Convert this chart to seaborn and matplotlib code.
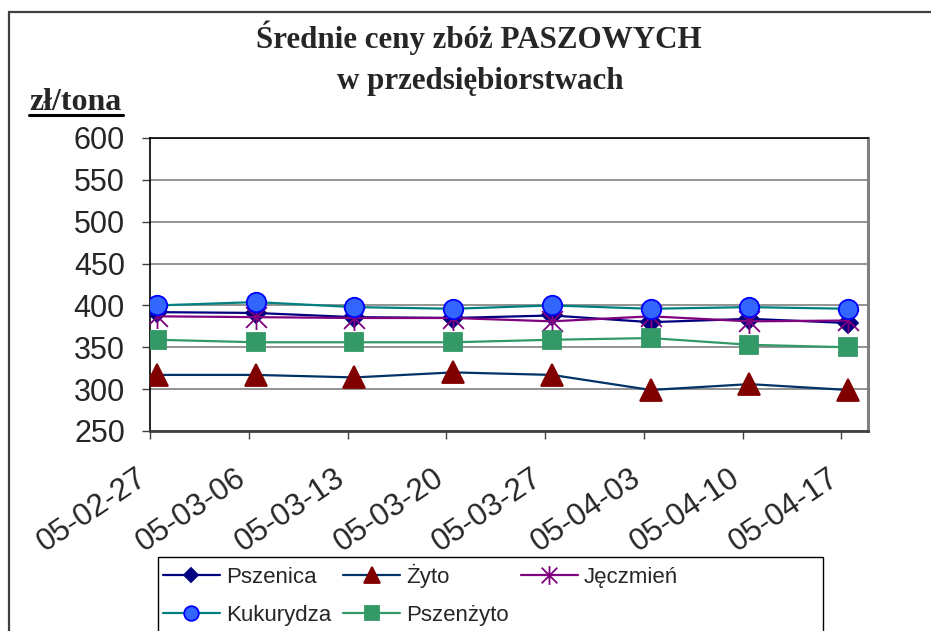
import numpy as np
import pandas as pd
import matplotlib
matplotlib.use("Agg")
import matplotlib.pyplot as plt
from matplotlib.path import Path
from matplotlib.patches import Rectangle
from matplotlib.lines import Line2D
from matplotlib.transforms import ScaledTranslation
import seaborn as sns

# data
dates = ["05-02-27", "05-03-06", "05-03-13", "05-03-20",
         "05-03-27", "05-04-03", "05-04-10", "05-04-17"]
pszenica = [392, 391, 386, 385, 388, 380, 384, 379]
zyto = [317, 317, 314, 320, 317, 299, 306, 299]
jeczmien = [387, 386, 385, 385, 381, 387, 381, 382]
kukurydza = [400, 404, 398, 396, 400, 396, 398, 396]
pszenzyto = [359, 356, 356, 356, 359, 361, 353, 350]
names = ["Pszenica", "Żyto", "Jęczmień", "Kukurydza", "Pszenżyto"]

# excel-like asterisk marker (X with a vertical bar)
star = Path([(-1, -1), (1, 1), (-1, 1), (1, -1), (0, -1.2), (0, 1.2)],
            [Path.MOVETO, Path.LINETO, Path.MOVETO, Path.LINETO, Path.MOVETO, Path.LINETO])

styles = {
    "Pszenica": dict(color="#000080", marker="D", mfc="#000080", mec="#000080", ms=10),
    "Żyto": dict(color="#003366", marker="^", mfc="#800000", mec="#800000", ms=16),
    "Jęczmień": dict(color="#800080", marker=star, mfc="none", mec="#800080", ms=18),
    "Kukurydza": dict(color="#008080", marker="o", mfc="#3366FF", mec="#0000FF", ms=14),
    "Pszenżyto": dict(color="#339966", marker="s", mfc="#339966", mec="#339966", ms=13.5),
}

df = pd.DataFrame({"pos": np.arange(len(dates)),
                   "Pszenica": pszenica, "Żyto": zyto, "Jęczmień": jeczmien,
                   "Kukurydza": kukurydza, "Pszenżyto": pszenzyto})

sns.set_style("white")
plt.rcParams["font.family"] = ["Liberation Sans", "DejaVu Sans"]

W, H = 931, 631
fig = plt.figure(figsize=(9.31, 6.31), dpi=100)
ax = fig.add_axes([150 / W, 1 - 431 / H, (868 - 150) / W, (431 - 138) / H])

for n in names:
    st = styles[n]
    sns.lineplot(data=df, x="pos", y=n, ax=ax, color=st["color"], lw=1.6,
                 marker=st["marker"], markerfacecolor=st["mfc"],
                 markeredgecolor=st["mec"], markersize=st["ms"],
                 markeredgewidth=1.3, label=n, legend=False, zorder=3)

ax.set_ylim(250, 600)
ax.set_yticks(np.arange(250, 601, 50))
ax.set_xlim(-0.07, 7.2)
ax.set_xticks(np.arange(len(dates)) - 0.07)
ax.set_xticklabels(dates, rotation=34, ha="right", va="top", rotation_mode="anchor")
ax.set_xlabel("")
ax.set_ylabel("")
ax.grid(axis="y", color="#808080", lw=1.2)
ax.grid(axis="x", visible=False)
ax.set_axisbelow(True)
ax.tick_params(axis="y", direction="out", length=6, width=1, color="#404040",
               labelsize=22, pad=12, left=True)
ax.tick_params(axis="x", direction="out", length=6, width=1, color="#404040",
               labelsize=22.5, pad=17, bottom=True)
shift = ScaledTranslation(-14 / 100, 0, fig.dpi_scale_trans)
for lab in ax.get_xticklabels():
    lab.set_transform(lab.get_transform() + shift)

for s in ["left", "top"]:
    ax.spines[s].set_color("black")
    ax.spines[s].set_linewidth(1.2)
ax.spines["bottom"].set_color("#404040")
ax.spines["bottom"].set_linewidth(2)
ax.spines["right"].set_color("#808080")
ax.spines["right"].set_linewidth(2.2)

# titles
fig.text(479 / W, 1 - 48 / H, "Średnie ceny zbóż PASZOWYCH", ha="center", va="baseline",
         fontsize=22.3, fontweight="bold", family="Liberation Serif")
fig.text(480 / W, 1 - 89 / H, "w przedsiębiorstwach", ha="center", va="baseline",
         fontsize=22.3, fontweight="bold", family="Liberation Serif")
fig.text(29 / W, 1 - 110 / H, "zł/tona", ha="left", va="baseline",
         fontsize=23, fontweight="bold", family="Liberation Serif")
fig.add_artist(Line2D([29 / W, 123 / W], [1 - 115 / H, 1 - 115 / H],
                      transform=fig.transFigure, color="black", lw=2.2))

# outer chart border and legend frame
fig.add_artist(Rectangle((9 / W, -0.1), 1.1, 1 - 12 / H + 0.1, transform=fig.transFigure,
                         fill=False, edgecolor="#404040", lw=1.6))
fig.add_artist(Rectangle((158 / W, -0.1), (823 - 158) / W, 1 - 557 / H + 0.1,
                         transform=fig.transFigure, fill=False, edgecolor="black", lw=1))

handles, labels = ax.get_legend_handles_labels()
order = [0, 3, 1, 4, 2]
fig.legend([handles[i] for i in order], [labels[i] for i in order],
           loc="upper left", bbox_to_anchor=(163 / W, 1 - 564 / H), ncol=3,
           frameon=False, fontsize=16, handlelength=2.55, handletextpad=0.28,
           columnspacing=0.55, labelspacing=0.75, borderpad=0, borderaxespad=0,
           markerscale=0.75)

fig.savefig("out.png", dpi=100)
